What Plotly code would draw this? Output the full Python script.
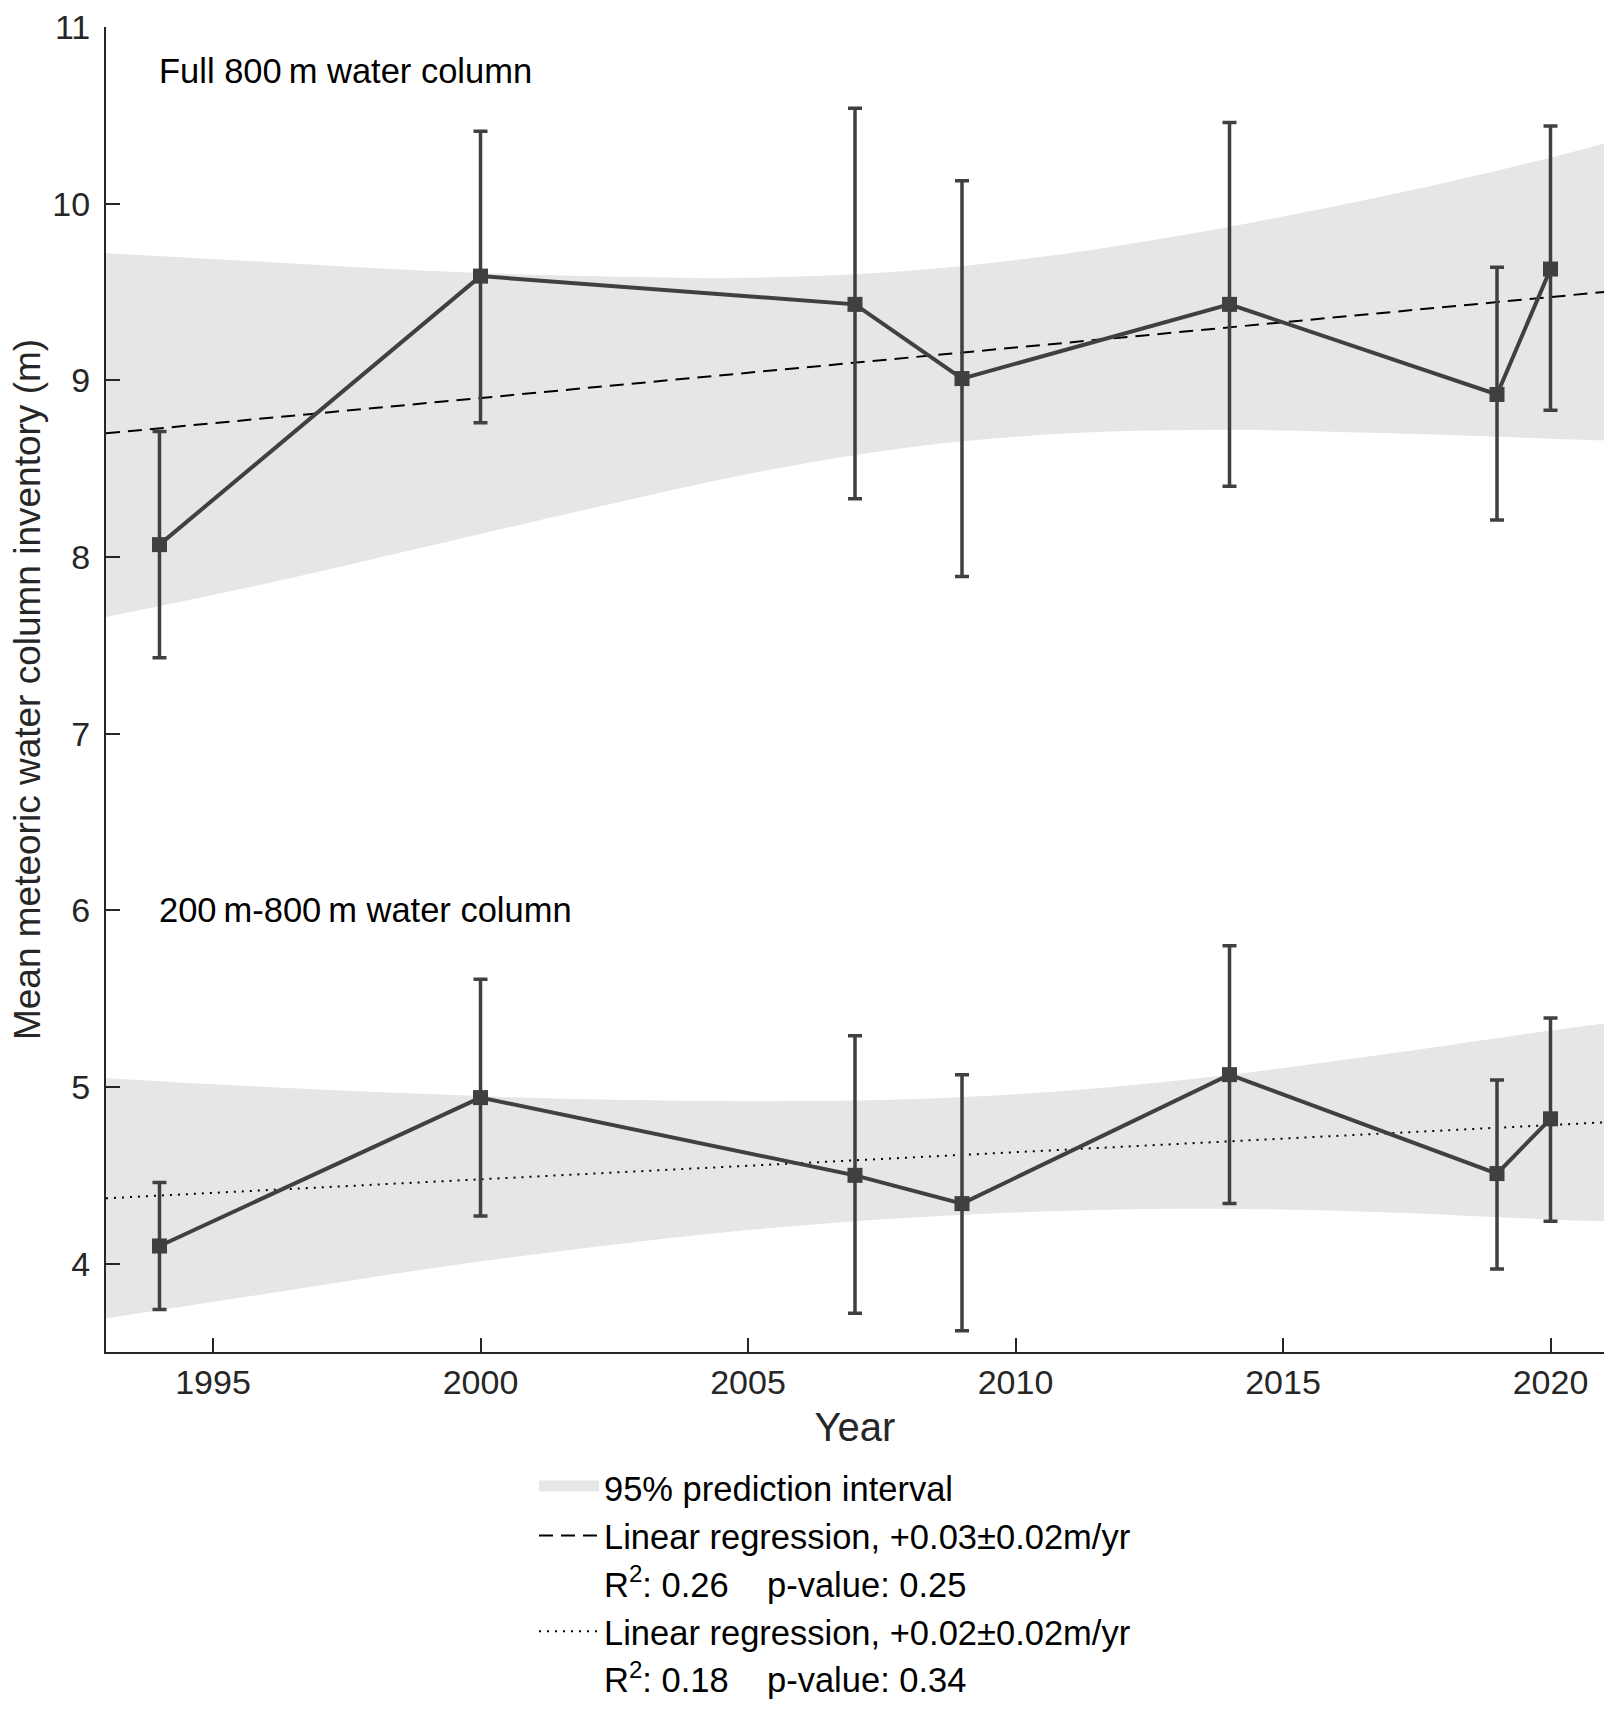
import plotly.graph_objects as go

# ---------------- data ----------------
years = [1994, 2000, 2007, 2009, 2014, 2019, 2020]

full_mean = [8.07, 9.59, 9.43, 9.01, 9.43, 8.92, 9.63]
full_upper = [8.71, 10.41, 10.54, 10.13, 10.46, 9.64, 10.44]
full_lower = [7.43, 8.76, 8.33, 7.89, 8.40, 8.21, 8.83]

deep_mean = [4.10, 4.94, 4.50, 4.34, 5.07, 4.51, 4.82]
deep_upper = [4.46, 5.61, 5.29, 5.07, 5.80, 5.04, 5.39]
deep_lower = [3.74, 4.27, 3.72, 3.62, 4.34, 3.97, 4.24]

reg_x = [1993, 2021]
full_reg = [8.70, 9.50]
deep_reg = [4.37, 4.80]

band_x = [1993, 1996, 1999, 2002, 2005, 2008, 2011, 2014, 2017, 2020, 2021]
full_band_upper = [9.72, 9.67, 9.62, 9.59, 9.58, 9.62, 9.72, 9.87, 10.05, 10.26, 10.34]
full_band_lower = [7.66, 7.85, 8.06, 8.27, 8.47, 8.62, 8.70, 8.72, 8.70, 8.67, 8.66]
deep_band_upper = [5.05, 5.00, 4.96, 4.93, 4.92, 4.93, 4.98, 5.07, 5.19, 5.32, 5.36]
deep_band_lower = [3.69, 3.83, 3.97, 4.09, 4.19, 4.26, 4.30, 4.31, 4.29, 4.25, 4.24]

x_ticks = [1995, 2000, 2005, 2010, 2015, 2020]
y_ticks = [4, 5, 6, 7, 8, 9, 10, 11]

label_full = "Full 800\u2009m water column"
label_deep = "200\u2009m-800\u2009m water column"
legend_band = "95% prediction interval"
legend_reg_full = "Linear regression, +0.03\u00b10.02m/yr"
legend_stats_full = "R<sup>2</sup>: 0.26\u00a0\u00a0\u00a0\u00a0p-value: 0.25"
legend_reg_deep = "Linear regression, +0.02\u00b10.02m/yr"
legend_stats_deep = "R<sup>2</sup>: 0.18\u00a0\u00a0\u00a0\u00a0p-value: 0.34"

# ---------------- styles ----------------
FONT = "Liberation Sans, Arial, Helvetica, sans-serif"
BAND = "#e6e6e6"
DATA = "#404040"
AX = "#262626"

fig = go.Figure()

# prediction bands
for lo, hi in [(full_band_lower, full_band_upper), (deep_band_lower, deep_band_upper)]:
    fig.add_trace(go.Scatter(x=band_x, y=lo, mode="lines", line=dict(width=0, shape="spline"),
                             showlegend=False, hoverinfo="skip"))
    fig.add_trace(go.Scatter(x=band_x, y=hi, mode="lines", line=dict(width=0, shape="spline"),
                             fill="tonexty", fillcolor=BAND, showlegend=False, hoverinfo="skip"))

# legend swatch for the band
fig.add_trace(go.Scatter(x=[None], y=[None], mode="lines", name=legend_band,
                         line=dict(color=BAND, width=30), fill="toself", fillcolor=BAND,
                         legendrank=1))

# regression lines
fig.add_trace(go.Scatter(x=reg_x, y=full_reg, mode="lines", name=legend_reg_full,
                         line=dict(color="black", width=2, dash="14px,8px"), legendrank=2))
fig.add_trace(go.Scatter(x=[None], y=[None], mode="lines", name=legend_stats_full,
                         line=dict(width=0, color="rgba(0,0,0,0)"), legendrank=3))
fig.add_trace(go.Scatter(x=reg_x, y=deep_reg, mode="lines", name=legend_reg_deep,
                         line=dict(color="black", width=2, dash="2px,6px"), legendrank=4))
fig.add_trace(go.Scatter(x=[None], y=[None], mode="lines", name=legend_stats_deep,
                         line=dict(width=0, color="rgba(0,0,0,0)"), legendrank=5))

# data series with error bars
for mean, up, lo in [(full_mean, full_upper, full_lower), (deep_mean, deep_upper, deep_lower)]:
    fig.add_trace(go.Scatter(
        x=years, y=mean, mode="lines+markers", showlegend=False,
        line=dict(color=DATA, width=4),
        marker=dict(symbol="square", size=15, color=DATA),
        error_y=dict(type="data", symmetric=False,
                     array=[u - m for u, m in zip(up, mean)],
                     arrayminus=[m - l for m, l in zip(mean, lo)],
                     color=DATA, thickness=3.5, width=7),
    ))

fig.add_annotation(x=1993.95, y=10.75, xref="x", yref="y", text=label_full, showarrow=False,
                   xanchor="left", yanchor="middle", font=dict(family=FONT, size=34.5, color="black"))
fig.add_annotation(x=1993.95, y=6.0, xref="x", yref="y", text=label_deep, showarrow=False,
                   xanchor="left", yanchor="middle", font=dict(family=FONT, size=34.5, color="black"))

fig.update_layout(
    width=1619, height=1714,
    margin=dict(l=106, r=15, t=27, b=362, autoexpand=False),
    paper_bgcolor="white", plot_bgcolor="white",
    font=dict(family=FONT, size=34, color=AX),
    legend=dict(x=0.2857, xanchor="left", y=-0.0805, yanchor="top", traceorder="normal",
                font=dict(family=FONT, size=34.5, color="black"),
                bgcolor="rgba(0,0,0,0)", itemwidth=60, tracegroupgap=0),
    showlegend=True,
)
fig.update_xaxes(range=[1993, 2021], tickvals=x_ticks, ticks="inside", ticklen=14, tickwidth=1.5,
                 tickcolor=AX, showline=True, linecolor=AX, linewidth=2, showgrid=False, zeroline=False,
                 automargin=False, tickfont=dict(size=34, color=AX), ticklabelstandoff=-1,
                 title=dict(text="Year", font=dict(size=40, color=AX), standoff=13))
fig.update_yaxes(range=[3.5, 11], tickvals=y_ticks, ticks="inside", ticklen=14, tickwidth=1.5,
                 tickcolor=AX, showline=True, linecolor=AX, linewidth=2, showgrid=False, zeroline=False,
                 automargin=False, tickfont=dict(size=34, color=AX), ticklabelstandoff=7,
                 title=dict(text="Mean meteoric water column inventory (m)",
                            font=dict(size=37, color=AX), standoff=0))

fig.write_html("out.html", config={"displayModeBar": False},
               post_script="document.body.style.margin='0px';")
